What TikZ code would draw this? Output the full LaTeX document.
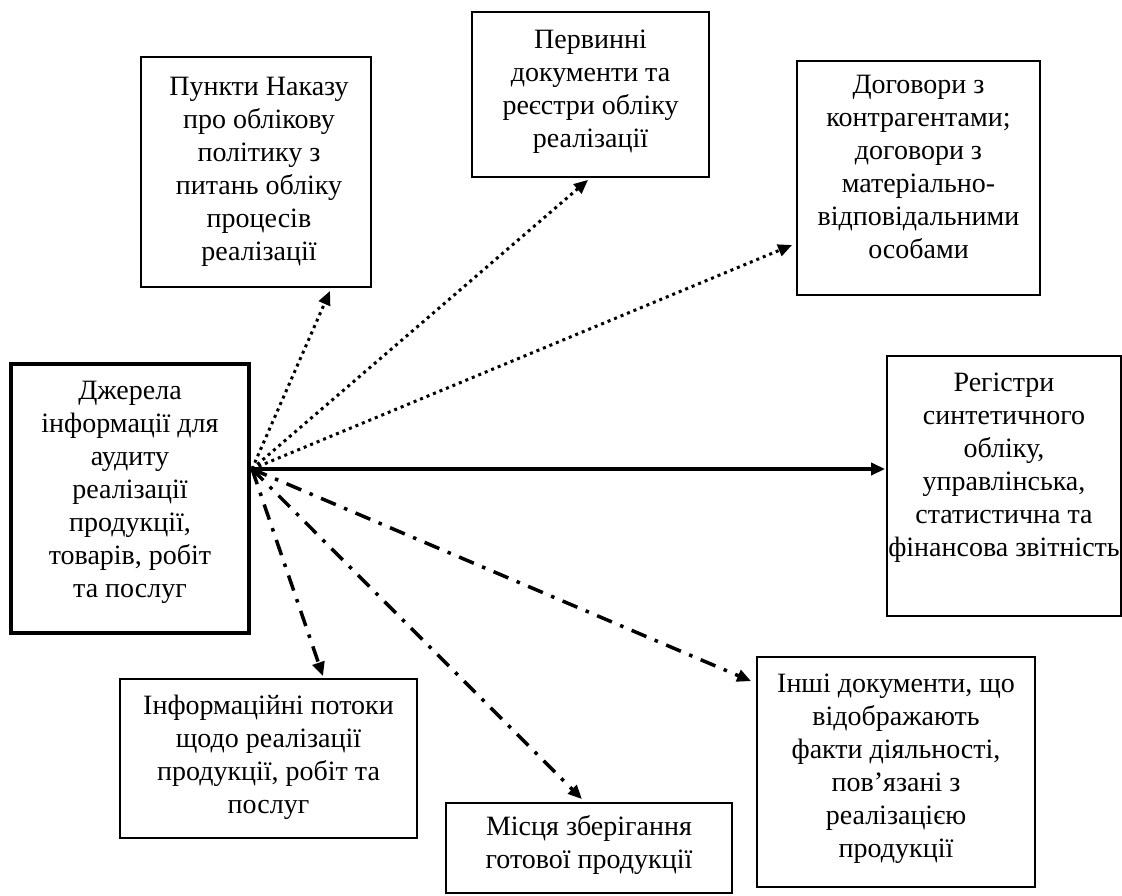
\documentclass[tikz,border=0pt]{standalone}
\usepackage{fontspec}
\setmainfont{Liberation Serif}
\usetikzlibrary{arrows.meta,calc}
\begin{document}
\begin{tikzpicture}[x=1pt,y=-1pt,
  box/.style={draw, line width=1.8pt, rectangle, inner sep=0pt},
  mainbox/.style={draw, line width=4.5pt, rectangle, inner sep=0pt},
  lbl/.style={anchor=north, align=center, inner sep=0pt, font=\fontsize{28}{33}\selectfont},
  dotline/.style={line width=3pt, dash pattern=on 3pt off 4pt},
  dashdotline/.style={line width=3.5pt, dash pattern=on 16pt off 9pt on 3.5pt off 9pt},
  solidline/.style={line width=3.5pt},
  tip/.style={-{Triangle[length=14pt,width=12pt]}}
]
\useasboundingbox (0,0) rectangle (1122,895);

% boxes
\node[mainbox, minimum width=238pt, minimum height=269pt] (S) at (130,498.5) {};
\node[box, minimum width=230pt, minimum height=230pt] (A) at (256,172) {};
\node[box, minimum width=237pt, minimum height=165pt] (B) at (590.5,94.5) {};
\node[box, minimum width=243pt, minimum height=234pt] (C) at (918.5,178) {};
\node[box, minimum width=234pt, minimum height=260pt] (D) at (1004,486) {};
\node[box, minimum width=278pt, minimum height=230pt] (E) at (896,772) {};
\node[box, minimum width=297pt, minimum height=159pt] (F) at (268.5,758.5) {};
\node[box, minimum width=286pt, minimum height=90pt] (G) at (589,848) {};

% texts
\node[lbl] (St) at ($(S.north)+(0,14)$) {\strut Джерела\\інформації для\\аудиту\\реалізації\\продукції,\\товарів, робіт\\та послуг};
\node[lbl] (At) at ($(A.north)+(3,16)$) {\strut Пункти Наказу\\про облікову\\політику з\\питань обліку\\процесів\\реалізації};
\node[lbl] (Bt) at ($(B.north)+(0,14)$) {\strut Первинні\\документи та\\реєстри обліку\\реалізації};
\node[lbl] (Ct) at ($(C.north)+(0,10)$) {\strut Договори з\\контрагентами;\\договори з\\матеріально-\\відповідальними\\особами};
\node[lbl] (Dt) at ($(D.north)+(0,13)$) {\strut Регістри\\синтетичного\\обліку,\\управлінська,\\статистична та\\фінансова звітність};
\node[lbl] (Et) at ($(E.north)+(0,13)$) {\strut Інші документи, що\\відображають\\факти діяльності,\\пов’язані з\\реалізацією\\продукції};
\node[lbl] (Ft) at ($(F.north)+(0,13)$) {\strut Інформаційні потоки\\щодо реалізації\\продукції, робіт та\\послуг};
\node[lbl] (Gt) at ($(G.north)+(0,10)$) {\strut Місця зберігання\\готової продукції};

% source point
\coordinate (src) at (252,469);

% connectors
\draw[dotline, tip] (src) -- ($(A.south)+(74,3)$);
\draw[dotline, tip] (src) -- ($(B.south)+(-2.5,2)$);
\draw[dotline, tip] (src) -- ($(C.west)+(-4,67)$);
\draw[solidline, tip] (src) -- ($(D.west)+(-1,-17)$);
\draw[dashdotline, tip] (src) -- ($(E.north west)+(-5,25)$);
\draw[dashdotline, tip] (src) -- ($(F.north)+(54.5,-2)$);
\draw[dashdotline, tip] (src) -- ($(G.north)+(-7,-3)$);
\end{tikzpicture}
\end{document}
